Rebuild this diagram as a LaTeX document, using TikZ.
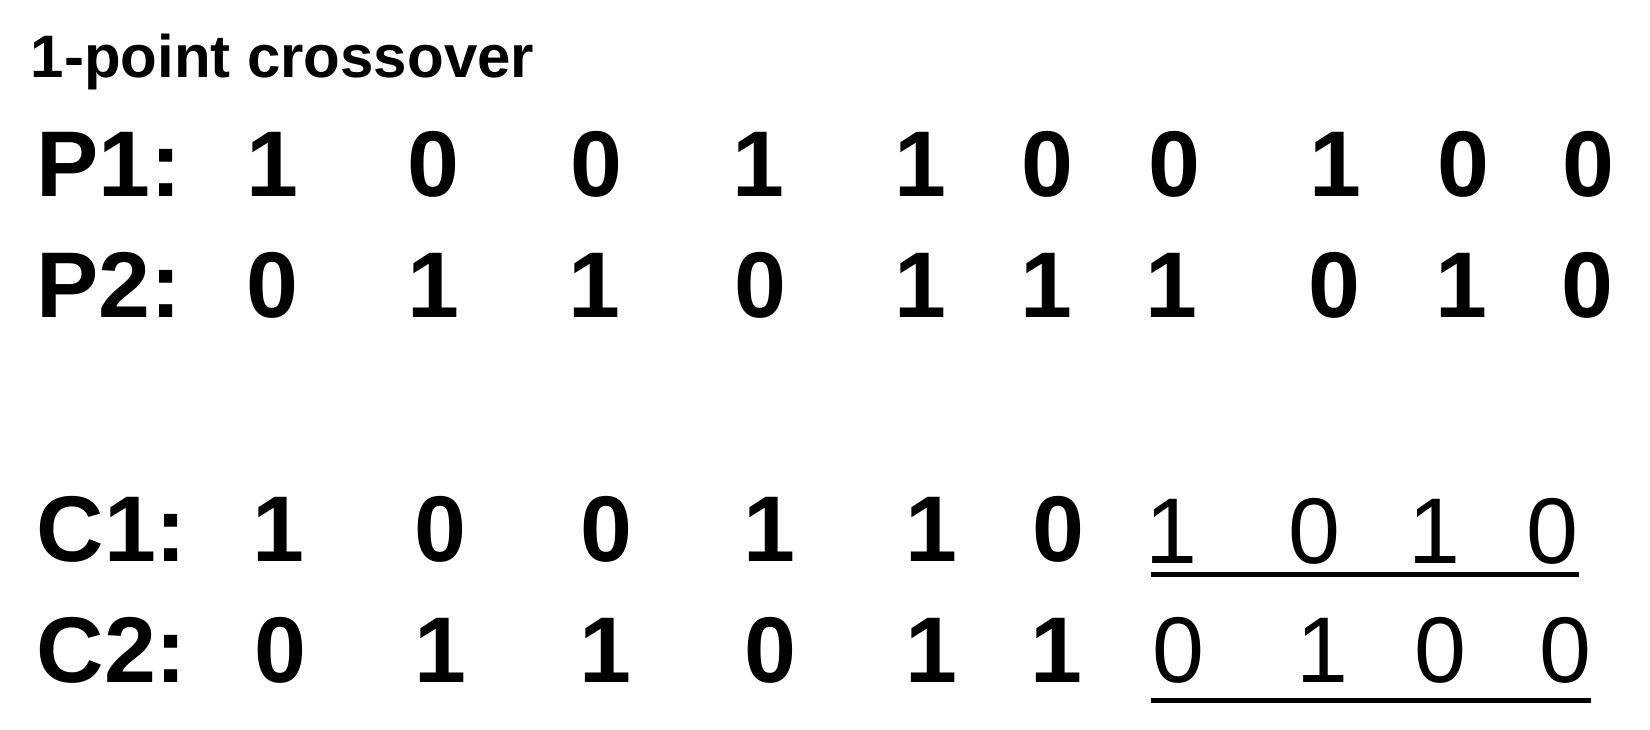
\documentclass[tikz,border=0pt]{standalone}
\usepackage{fontspec}
\setmainfont{Liberation Sans}
\usepackage{tikz}
\usetikzlibrary{positioning,calc}

\begin{document}
\begin{tikzpicture}[x=0.3pt,y=-0.3pt]
	\tikzstyle{heading}=[anchor=base west,inner sep=0pt,font=\fontsize{18}{20}\selectfont\bfseries]
	\tikzstyle{rowlabel}=[anchor=base west,inner sep=0pt,font=\fontsize{28}{30}\selectfont\bfseries]
	\tikzstyle{bit}=[anchor=base,inner sep=0pt,font=\fontsize{28}{30}\selectfont\bfseries]
	\tikzstyle{swapped}=[anchor=base,inner sep=0pt,font=\fontsize{28}{30}\selectfont]
	\tikzstyle{uline}=[line width=1.5pt]
	\useasboundingbox (0,0) rectangle (1650,730);
	\node[heading](T) at (30,78){1-point crossover};
	
	% parents
	\node[rowlabel](P1) at (36,197){P1:};
	\node[bit](p1a) at (272,197){1};
	\node[bit](p1b) at (433,197){0};
	\node[bit](p1c) at (596,197){0};
	\node[bit](p1d) at (758,197){1};
	\node[bit](p1e) at (920,197){1};
	\node[bit](p1f) at (1047,197){0};
	\node[bit](p1g) at (1174,197){0};
	\node[bit](p1h) at (1335,197){1};
	\node[bit](p1i) at (1463,197){0};
	\node[bit](p1j) at (1588,197){0};
	
	\node[rowlabel](P2) at (36,318){P2:};
	\node[bit](p2a) at (272,318){0};
	\node[bit](p2b) at (433,318){1};
	\node[bit](p2c) at (594,318){1};
	\node[bit](p2d) at (760,318){0};
	\node[bit](p2e) at (920,318){1};
	\node[bit](p2f) at (1046,318){1};
	\node[bit](p2g) at (1171,318){1};
	\node[bit](p2h) at (1334,318){0};
	\node[bit](p2i) at (1461,318){1};
	\node[bit](p2j) at (1587,318){0};
	
	% children
	\node[rowlabel](C1) at (36,562){C1:};
	\node[bit](c1a) at (278,562){1};
	\node[bit](c1b) at (440,562){0};
	\node[bit](c1c) at (606,562){0};
	\node[bit](c1d) at (769,562){1};
	\node[bit](c1e) at (931,562){1};
	\node[bit](c1f) at (1058,562){0};
	\node[swapped](c1g) at (1171,564){1};
	\node[swapped](c1h) at (1314,564){0};
	\node[swapped](c1i) at (1434,564){1};
	\node[swapped](c1j) at (1552,564){0};
	
	\node[rowlabel](C2) at (36,683){C2:};
	\node[bit](c2a) at (280,683){0};
	\node[bit](c2b) at (440,683){1};
	\node[bit](c2c) at (605,683){1};
	\node[bit](c2d) at (770,683){0};
	\node[bit](c2e) at (931,683){1};
	\node[bit](c2f) at (1056,683){1};
	\node[swapped](c2g) at (1178,683){0};
	\node[swapped](c2h) at (1322,683){1};
	\node[swapped](c2i) at (1440,683){0};
	\node[swapped](c2j) at (1565,683){0};
	
	\coordinate (u1a) at (1151,575);
	\coordinate (u1b) at (1579,575);
	\coordinate (u2a) at (1151,701);
	\coordinate (u2b) at (1591,701);
	\draw[uline] (u1a) -- (u1b);
	\draw[uline] (u2a) -- (u2b);
\end{tikzpicture}
\end{document}
